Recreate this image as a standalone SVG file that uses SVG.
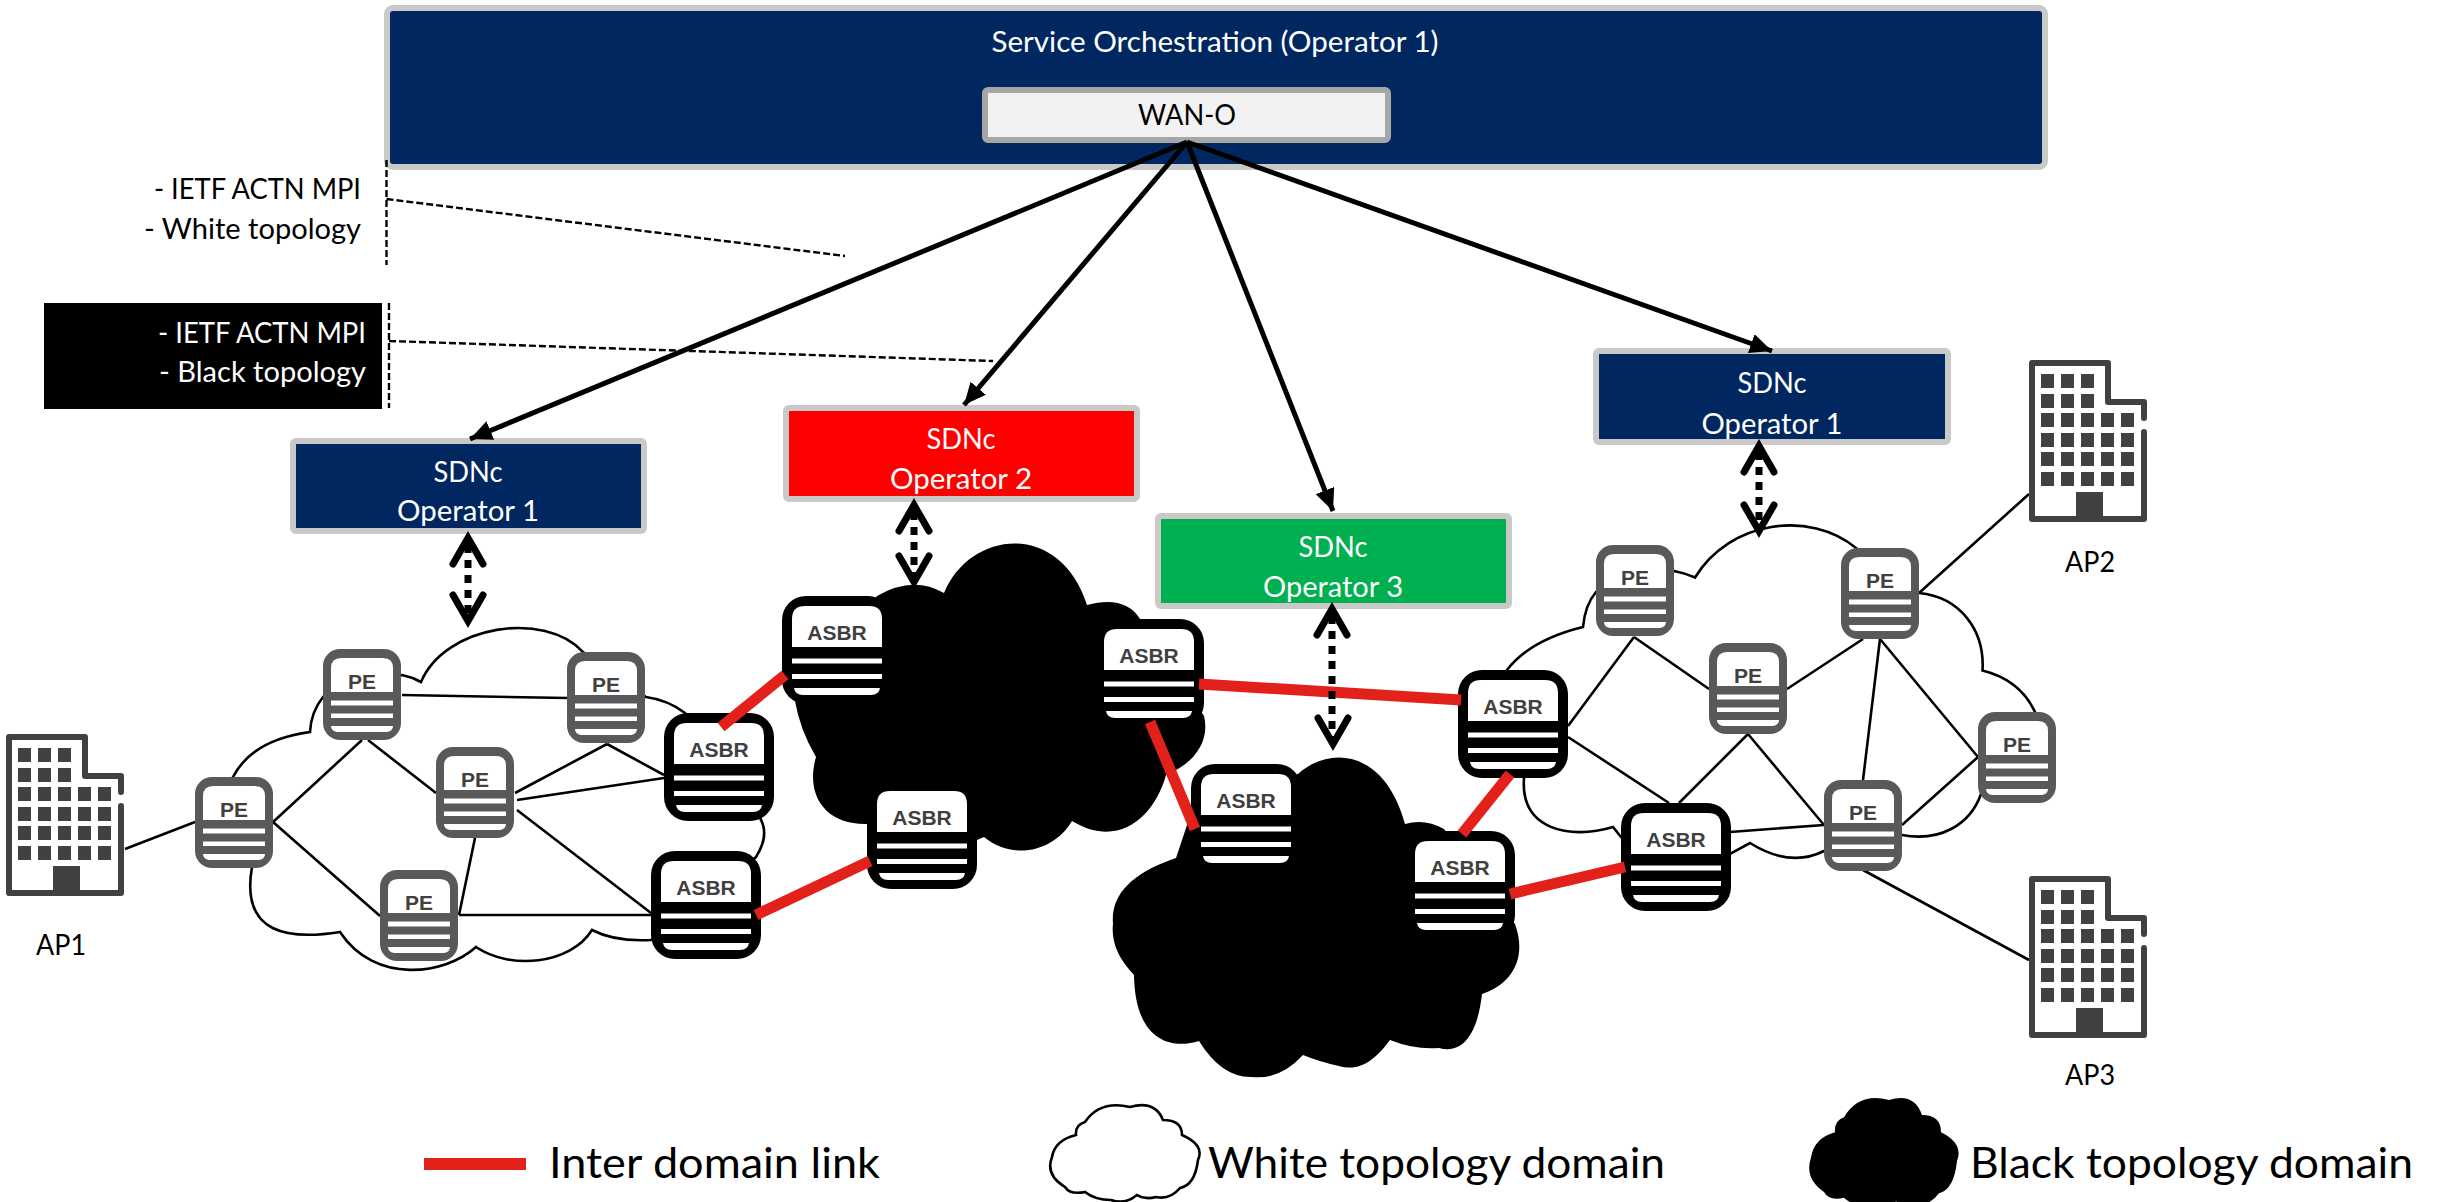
<svg xmlns="http://www.w3.org/2000/svg" xmlns:xlink="http://www.w3.org/1999/xlink" width="2445" height="1202" viewBox="0 0 2445 1202">
<style>
text{font-family:"Lato","Open Sans","Liberation Sans",sans-serif}
.wt{fill:#fff;font-size:28px;text-anchor:middle}
.bk{fill:#000;font-size:28px;text-anchor:middle}
.r{font-size:28px;text-anchor:end}
.leg{font-size:42px;fill:#000}
.box{stroke:#c9c9c9;stroke-width:6}
.cl{fill:#fff;stroke:#000;stroke-width:2.6;stroke-linejoin:miter}
.blk{fill:#000}
.pe{font:bold 21px "Liberation Sans",Arial,sans-serif;fill:#404040;text-anchor:middle}
.as{font:bold 21px "Liberation Sans",Arial,sans-serif;fill:#404040;text-anchor:middle}
.lnk{stroke:#000;stroke-width:2.6;fill:none}
.red{stroke:#e3211b;stroke-width:11;fill:none}
.arw{stroke:#000;stroke-width:5;fill:none;marker-end:url(#tri)}
.ldr{stroke:#000;stroke-width:2.4;fill:none;stroke-dasharray:7 3}
.dsh{stroke:#000;stroke-width:7;fill:none;stroke-dasharray:8 7}
.chev{stroke:#000;stroke-width:7;fill:none;stroke-linecap:round;stroke-linejoin:miter;stroke-miterlimit:8}
</style>
<defs>
<marker id="tri" markerUnits="userSpaceOnUse" markerWidth="24" markerHeight="20" refX="22" refY="10" orient="auto"><path d="M0,0L22,10L0,20Z" fill="#000"/></marker>
<g id="ic-pe">
<rect x="0" y="0" width="78" height="91" rx="17" fill="#58595b"/>
<path d="M8,43V19Q8,9 18,9H60Q70,9 70,19V43Z" fill="#fff"/>
<rect x="8" y="51.500" width="62" height="5" fill="#fff"/>
<rect x="8" y="64.500" width="62" height="4.500" fill="#fff"/>
<path d="M8,77H70Q70,82 64,83H14Q8,82 8,77Z" fill="#fff"/>
</g>
<g id="ic-asbr">
<rect x="0" y="0" width="110" height="108" rx="24" fill="#000"/>
<path d="M10,51V23Q10,10 23,10H87Q100,10 100,23V51Z" fill="#fff"/>
<rect x="10" y="62.500" width="90" height="5" fill="#fff"/>
<rect x="10" y="78" width="90" height="5" fill="#fff"/>
<path d="M12,92H98Q97,99 89,99H21Q13,99 12,92Z" fill="#fff"/>
</g>
<g id="ic-bld" fill="#414042">
<path d="M115,72V159H3V3H79V42H115V58" fill="none" stroke="#414042" stroke-width="6" stroke-linejoin="round" stroke-linecap="round"/>
<path d="M12,14h13v14h-13zM32,14h13v14h-13zM52,14h13v14h-13zM12,34h13v14h-13zM32,34h13v14h-13zM52,34h13v14h-13z"/>
<path d="M12,53h13v14h-13zM32,53h13v14h-13zM52,53h13v14h-13zM72,53h13v14h-13zM92,53h13v14h-13z"/>
<path d="M12,73h13v14h-13zM32,73h13v14h-13zM52,73h13v14h-13zM72,73h13v14h-13zM92,73h13v14h-13z"/>
<path d="M12,92h13v14h-13zM32,92h13v14h-13zM52,92h13v14h-13zM72,92h13v14h-13zM92,92h13v14h-13z"/>
<path d="M12,112h13v14h-13zM32,112h13v14h-13zM52,112h13v14h-13zM72,112h13v14h-13zM92,112h13v14h-13z"/>
<rect x="47" y="132" width="27" height="26"/>
</g>
<path id="chv" d="M-15,-29L0,-3L15,-29" class="chev"/>
</defs>

<g id="clouds">
<path class="cl" d="M233,777Q252,740 310,732Q311,712 323,697L402,675Q412,677 421,682C445,625 545,610 583,652L646,697Q668,700 685,713L760,818Q770,835 756,857L651,940Q615,942 592,930C570,965 510,970 476,947C445,975 375,985 340,932C290,940 240,935 252,867Z"/>
<path class="cl" d="M1507,670Q1530,640 1583,627Q1585,605 1596,592L1674,571Q1685,573 1695,577.500C1730,520 1810,510 1856,548L1919,593C1960,597 1985,630 1982.500,670.600Q2020,680 2035,712L1981,794C1970,825 1940,842 1902,835L1824,851Q1790,868 1750,843L1730,854L1621,837L1613,827C1570,840 1520,830 1524,778Z"/>
<path class="blk" d="M795,701L877,596Q913,575 944,593C970,530 1060,520 1087,605Q1125,595 1140,619L1204,716C1210,740 1195,760 1176,770L1166,775C1155,815 1120,850 1072,821C1055,850 1015,862 984,837L977,840L867,824C825,825 805,795 816,757Q800,730 795,701Z"/>
<path class="blk" d="M1191,813L1298,774C1330,745 1385,750 1405,824Q1425,818 1444,829L1515,924C1528,960 1510,985 1482,994C1478,1030 1465,1055 1439,1048Q1415,1050 1390,1040C1375,1060 1360,1072 1339,1066Q1320,1062 1303,1055Q1280,1080 1252,1077Q1222,1078 1199,1041C1170,1050 1135,1040 1134,975Q1110,950 1113,924C1110,890 1140,870 1176,858Z"/>
</g>

<g id="service-orchestration">
<rect class="box" x="387" y="8" width="1658" height="159" rx="6" fill="#012760"/>
<text class="wt" x="1215" y="52" textLength="447" lengthAdjust="spacingAndGlyphs">Service Orchestration (Operator 1)</text>
</g>
<g id="wan-o">
<rect x="985" y="90" width="403" height="50" rx="3" fill="#f2f2f2" stroke="#a6a6a6" stroke-width="6"/>
<text class="bk" x="1187" y="125" textLength="98" lengthAdjust="spacingAndGlyphs">WAN-O</text>
</g>
<g id="label-white">
<text class="r" x="361" y="199" fill="#000" textLength="207" lengthAdjust="spacingAndGlyphs">- IETF ACTN MPI</text>
<text class="r" x="361" y="239" fill="#000" textLength="217" lengthAdjust="spacingAndGlyphs">- White topology</text>
</g>
<g id="label-black">
<rect x="44" y="303" width="338" height="106" fill="#000"/>
<text class="r" x="366" y="343" fill="#fff" textLength="208" lengthAdjust="spacingAndGlyphs">- IETF ACTN MPI</text>
<text class="r" x="366" y="382" fill="#fff" textLength="207" lengthAdjust="spacingAndGlyphs">- Black topology</text>
</g>
<g id="sdnc-1a">
<rect class="box" x="293" y="441" width="351" height="90" rx="3" fill="#012760"/>
<text class="wt" x="468" y="482" textLength="69" lengthAdjust="spacingAndGlyphs">SDNc</text>
<text class="wt" x="468" y="521" textLength="142" lengthAdjust="spacingAndGlyphs">Operator 1</text>
</g>
<g id="sdnc-2">
<rect class="box" x="786" y="408" width="351" height="91" rx="3" fill="#f00"/>
<text class="wt" x="961" y="449" textLength="69" lengthAdjust="spacingAndGlyphs">SDNc</text>
<text class="wt" x="961" y="489" textLength="142" lengthAdjust="spacingAndGlyphs">Operator 2</text>
</g>
<g id="sdnc-3">
<rect class="box" x="1158" y="516" width="351" height="90" rx="3" fill="#00b050"/>
<text class="wt" x="1333" y="557" textLength="69" lengthAdjust="spacingAndGlyphs">SDNc</text>
<text class="wt" x="1333" y="597" textLength="140" lengthAdjust="spacingAndGlyphs">Operator 3</text>
</g>
<g id="sdnc-1b">
<rect class="box" x="1596" y="351" width="352" height="91" rx="3" fill="#012760"/>
<text class="wt" x="1772" y="393" textLength="69" lengthAdjust="spacingAndGlyphs">SDNc</text>
<text class="wt" x="1772" y="434" textLength="141" lengthAdjust="spacingAndGlyphs">Operator 1</text>
</g>

<g id="connectors">
<path class="lnk" d="M125,849L195,822M273,822L362,740M273,822L380,916M368,740L436,793M402,695L567,698M515,793L607,744M607,744L664,775M517,800L664,778M517,810L651,913M475,838L459,915M459,915L651,915"/>
<path class="lnk" d="M1919,593L2029,494M1863,870L2029,960M1634,637L1568,726M1634,637L1709,689M1787,689L1863,639M1880,639L1863,780M1880,639L1978,757M1902,825L1978,757M1748,734L1824,825M1748,734L1679,803M1568,737L1669,803M1730,832L1824,825"/>
<path class="ldr" d="M386.500,160V265M386.500,199L845,256M389,303V408M389,341L993,361"/>
<path class="arw" d="M1187,142L470,439"/>
<path class="arw" d="M1187,142L964,405"/>
<path class="arw" d="M1187,142L1333,511"/>
<path class="arw" d="M1187,142L1772,351"/>
</g>

<g id="ap1"><use href="#ic-bld" x="6" y="734"/><text class="bk" x="61" y="955" textLength="50" lengthAdjust="spacingAndGlyphs">AP1</text></g>
<g id="ap2"><use href="#ic-bld" x="2029" y="360"/><text class="bk" x="2090" y="572" textLength="50" lengthAdjust="spacingAndGlyphs">AP2</text></g>
<g id="ap3"><use href="#ic-bld" x="2029" y="876"/><text class="bk" x="2090" y="1085" textLength="50" lengthAdjust="spacingAndGlyphs">AP3</text></g>

<g id="pe1"><use href="#ic-pe" x="195" y="777"/><text class="pe" x="234" y="817">PE</text></g>
<g id="pe2"><use href="#ic-pe" x="323" y="649"/><text class="pe" x="362" y="689">PE</text></g>
<g id="pe3"><use href="#ic-pe" x="436" y="747"/><text class="pe" x="475" y="787">PE</text></g>
<g id="pe4"><use href="#ic-pe" x="567" y="652"/><text class="pe" x="606" y="692">PE</text></g>
<g id="pe5"><use href="#ic-pe" x="380" y="870"/><text class="pe" x="419" y="910">PE</text></g>
<g id="pe6"><use href="#ic-pe" x="1596" y="545"/><text class="pe" x="1635" y="585">PE</text></g>
<g id="pe7"><use href="#ic-pe" x="1841" y="548"/><text class="pe" x="1880" y="588">PE</text></g>
<g id="pe8"><use href="#ic-pe" x="1709" y="643"/><text class="pe" x="1748" y="683">PE</text></g>
<g id="pe9"><use href="#ic-pe" x="1978" y="712"/><text class="pe" x="2017" y="752">PE</text></g>
<g id="pe10"><use href="#ic-pe" x="1824" y="780"/><text class="pe" x="1863" y="820">PE</text></g>

<g id="asbr1"><use href="#ic-asbr" x="664" y="713"/><text class="as" x="719" y="757">ASBR</text></g>
<g id="asbr2"><use href="#ic-asbr" x="651" y="851"/><text class="as" x="706" y="895">ASBR</text></g>
<g id="asbr3"><use href="#ic-asbr" x="782" y="596"/><text class="as" x="837" y="640">ASBR</text></g>
<g id="asbr4"><use href="#ic-asbr" x="1094" y="619"/><text class="as" x="1149" y="663">ASBR</text></g>
<g id="asbr5"><use href="#ic-asbr" x="867" y="781"/><text class="as" x="922" y="825">ASBR</text></g>
<g id="asbr6"><use href="#ic-asbr" x="1191" y="764"/><text class="as" x="1246" y="808">ASBR</text></g>
<g id="asbr7"><use href="#ic-asbr" x="1405" y="831"/><text class="as" x="1460" y="875">ASBR</text></g>
<g id="asbr8"><use href="#ic-asbr" x="1458" y="670"/><text class="as" x="1513" y="714">ASBR</text></g>
<g id="asbr9"><use href="#ic-asbr" x="1621" y="803"/><text class="as" x="1676" y="847">ASBR</text></g>

<g id="inter-domain-links">
<path class="red" d="M721,727L785,675"/>
<path class="red" d="M756,915L870,861"/>
<path class="red" d="M1199,684L1461,700"/>
<path class="red" d="M1150,722L1195,829"/>
<path class="red" d="M1510,774L1462,834"/>
<path class="red" d="M1510,894L1625,867"/>
</g>

<g id="sdn-links">
<path class="dsh" d="M468,545V615"/>
<use href="#chv" transform="translate(468,624)"/><use href="#chv" transform="translate(468,535) scale(1,-1)"/>
<path class="dsh" d="M914,512V578"/>
<use href="#chv" transform="translate(914,585)"/><use href="#chv" transform="translate(914,502) scale(1,-1)"/>
<path class="dsh" d="M1332,616V738"/>
<use href="#chv" transform="translate(1333,747)"/><use href="#chv" transform="translate(1332,606) scale(1,-1)"/>
<path class="dsh" d="M1759,452V526"/>
<use href="#chv" transform="translate(1759,534)"/><use href="#chv" transform="translate(1759,443) scale(1,-1)"/>
</g>

<g id="legend">
<rect x="424" y="1158" width="102" height="12" fill="#e3211b"/>
<text class="leg" x="549" y="1178" textLength="331" lengthAdjust="spacingAndGlyphs">Inter domain link</text>
<path class="cl" d="M1085,1122Q1100,1100 1130,1107Q1155,1100 1163,1120Q1182,1120 1182,1135Q1205,1145 1198,1160Q1195,1185 1180,1188Q1170,1200 1156,1197Q1145,1200 1137,1195Q1125,1205 1111,1200Q1095,1200 1085,1192Q1070,1195 1065,1187Q1045,1175 1052,1157Q1055,1140 1076,1135Q1075,1125 1085,1122Z"/>
<text class="leg" x="1208" y="1178" textLength="457" lengthAdjust="spacingAndGlyphs">White topology domain</text>
<path class="blk" transform="translate(759 -173) scale(1 1.15)" d="M1085,1122Q1100,1100 1130,1107Q1155,1100 1163,1120Q1182,1120 1182,1135Q1205,1145 1198,1160Q1195,1185 1180,1188Q1170,1200 1156,1197Q1145,1200 1137,1195Q1125,1205 1111,1200Q1095,1200 1085,1192Q1070,1195 1065,1187Q1045,1175 1052,1157Q1055,1140 1076,1135Q1075,1125 1085,1122Z"/>
<text class="leg" x="1970" y="1178" textLength="443" lengthAdjust="spacingAndGlyphs">Black topology domain</text>
</g>
</svg>
